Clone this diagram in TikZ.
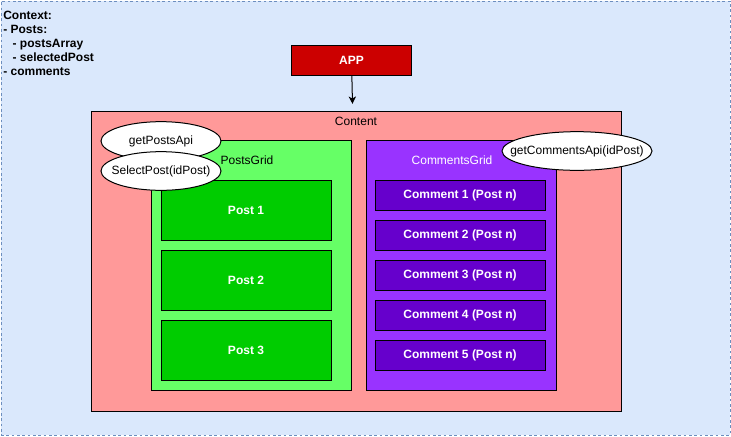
\documentclass[tikz,border=0pt]{standalone}
\usepackage{fontspec}
\setmainfont{Liberation Sans}
\usetikzlibrary{shapes.geometric,arrows.meta}

\definecolor{ctxfill}{HTML}{DAE8FC}
\definecolor{ctxline}{HTML}{6C8EBF}
\definecolor{appred}{HTML}{CC0000}
\definecolor{contentred}{HTML}{FF9999}
\definecolor{gridgreen}{HTML}{66FF66}
\definecolor{postgreen}{HTML}{00CC00}
\definecolor{gridpurple}{HTML}{9933FF}
\definecolor{commentpurple}{HTML}{6600CC}

\newcommand\diafont{\fontsize{9pt}{10.5pt}\selectfont}

\begin{document}
\begin{tikzpicture}[x=0.75pt,y=-0.75pt,font=\diafont,
	box/.style={rectangle,draw,line width=0.75pt,inner sep=0pt},
	ctx node/.style={rectangle,draw=ctxline,fill=ctxfill,line width=0.75pt,dash pattern=on 2pt off 2pt},
	app node/.style={box,fill=appred,text=white,font=\diafont\bfseries,minimum width=90pt,minimum height=22.5pt},
	content node/.style={box,fill=contentred,minimum width=397.5pt,minimum height=225pt},
	posts node/.style={box,fill=gridgreen,minimum width=150pt,minimum height=187.5pt},
	comments node/.style={box,fill=gridpurple,minimum width=142.5pt,minimum height=187.5pt},
	post node/.style={box,fill=postgreen,text=white,font=\diafont\bfseries,minimum width=127.5pt,minimum height=45pt},
	comment node/.style={box,fill=commentpurple,text=white,font=\diafont\bfseries,minimum width=127.5pt,minimum height=22.5pt},
	call node/.style={ellipse,draw,fill=white,line width=0.75pt,inner sep=0pt,minimum height=29pt},
	conn/.style={line width=0.75pt,-{Stealth[length=5.5pt,width=5.5pt,inset=1.5pt]},shorten >=5pt}
]
	\useasboundingbox (0,0) rectangle (731,436);

	% context
	\node[ctx node,minimum width=546.75pt,minimum height=325.5pt] (ctx) at (365.5,218) {};
	\node[anchor=north west,inner sep=0pt,align=left,font=\diafont\bfseries] (ctxtext) at (3,11)
		{Context:\\- Posts:\\\hspace{7pt}- postsArray\\\hspace{7pt}- selectedPost\\- comments};

	\node[app node] (app) at (351.5,60) {APP};
	\node[content node] (content) at (356,261) {};
	\node (contentlabel) at (356,121) {Content};

	\draw[conn] (app) -- (content);

	% posts
	\node[posts node] (postsgrid) at (251,265) {};
	\node (postslabel) at (247,160) {PostsGrid};
	\foreach \i in {1,2,3} {
		\node[post node] (post\i) at (246,{140+70*\i}) {Post \i};
	}

	% comments
	\node[comments node] (commentsgrid) at (461,265) {};
	\node[text=white] (commentslabel) at (452,160) {CommentsGrid};
	\foreach \i in {1,...,5} {
		\node[comment node] (comment\i) at (460,{155+40*\i}) {Comment \i{} (Post n)};
	}

	% api calls
	\node[call node,minimum width=90pt,label=center:getPostsApi] (getposts) at (161,141) {};
	\node[call node,minimum width=90pt,label=center:SelectPost(idPost)] (selectpost) at (161,171) {};
	\node[call node,minimum width=112.5pt,label=center:getCommentsApi(idPost)] (getcomments) at (577,151) {};
\end{tikzpicture}
\end{document}
